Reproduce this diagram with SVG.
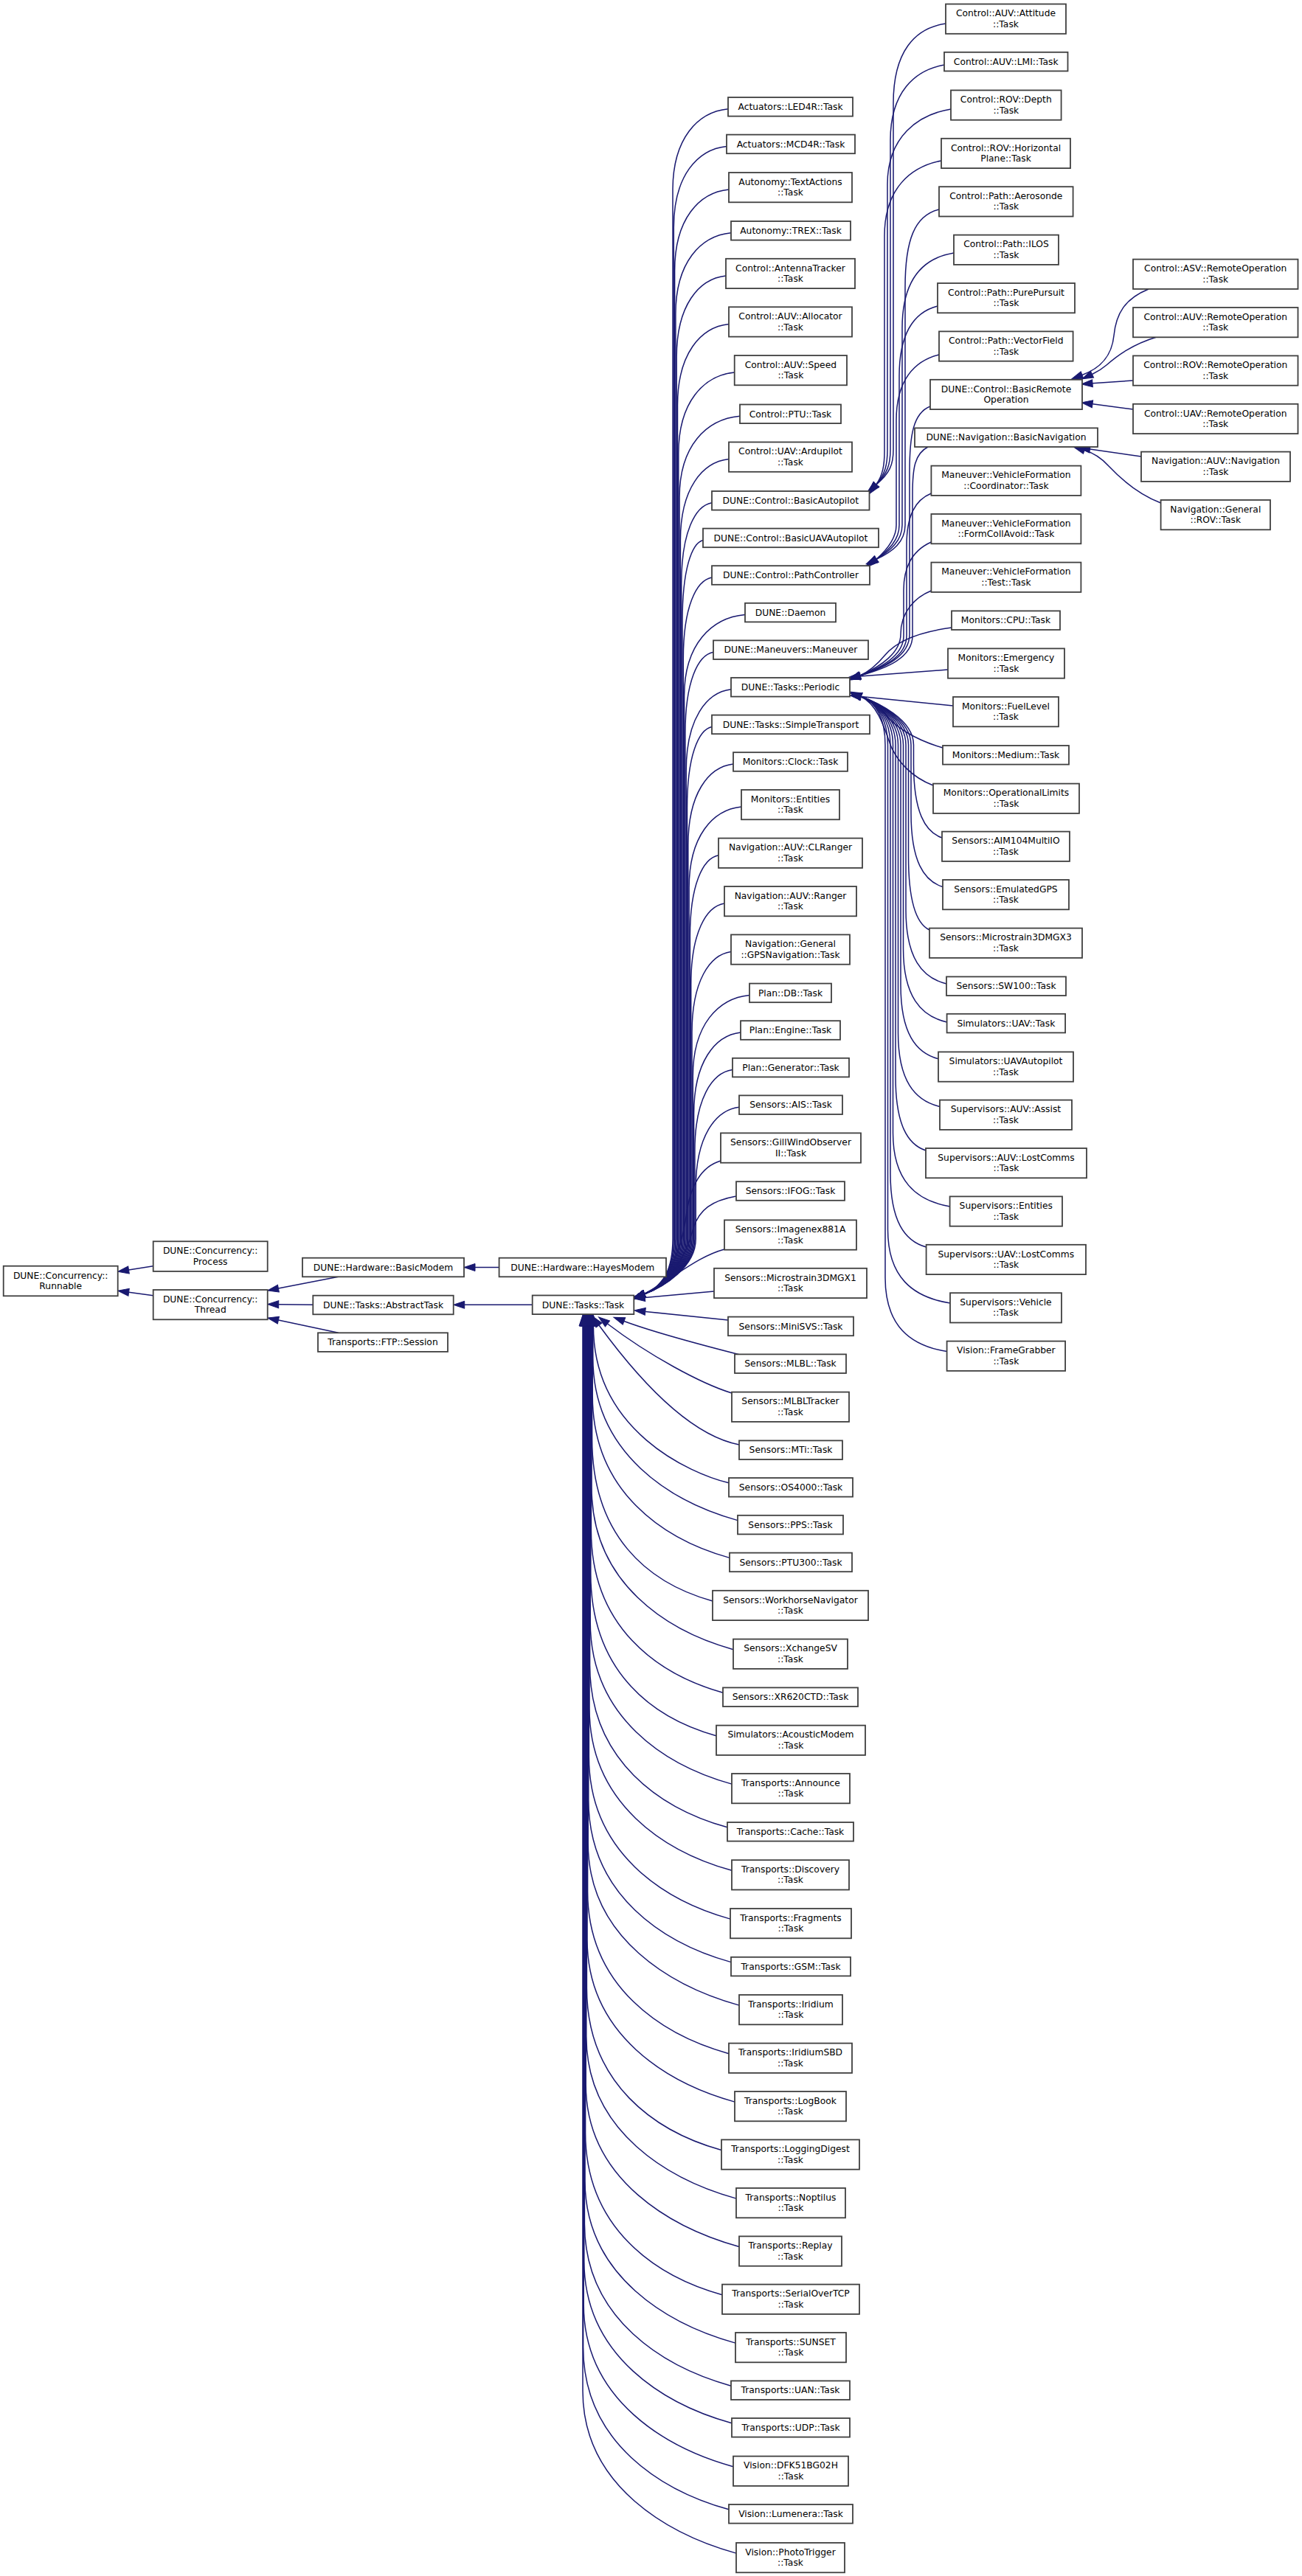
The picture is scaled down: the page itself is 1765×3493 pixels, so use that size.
<svg xmlns="http://www.w3.org/2000/svg" width="1765" height="3493" viewBox="0 0 1765 3493">
<defs>
<marker id="ah" markerUnits="userSpaceOnUse" markerWidth="16" markerHeight="12" refX="0" refY="0" orient="auto" overflow="visible"><path d="M0,-5 L15,0 L0,5 Z" fill="#191970" stroke="#191970" stroke-width="1"/></marker>
<style>
.n rect{fill:#fff;stroke:#404040;stroke-width:1.8}
.n text{font-family:"DejaVu Sans","Liberation Sans",sans-serif;font-size:12.3px;text-anchor:middle;fill:#000}
.e path{fill:none;stroke:#191970;stroke-width:1.5;marker-end:url(#ah)}
</style>
</defs>
<rect width="1765" height="3493" fill="#fff"/>
<g id="connectors" class="e">
<path d="M207.7,1716.7 L174.5,1722"/>
<path d="M207.7,1756.7 L174.6,1752.3"/>
<path d="M458.7,1731.3 L377.4,1747.1"/>
<path d="M424.3,1769.3 L377.7,1768.8"/>
<path d="M458.7,1807.3 L377.4,1790.1"/>
<path d="M676.6,1718.5 L644,1718.5"/>
<path d="M721.7,1769.3 L629.7,1769.3"/>
<path d="M987,147.8 C945.75,151.8 912,187.8 912,257.8 L912,1680 C912,1718 900,1745 873.5,1754.5"/>
<path d="M985,198.4 C945.6,202.4 913.3,238.4 913.3,308.4 L913.3,1680 C913.3,1718 900,1745 873.5,1754.5"/>
<path d="M988,257 C947.6,261 914.6,297 914.6,367 L914.6,1680 C914.6,1718 900,1745 873.5,1754.5"/>
<path d="M991,315.8 C949.7,319.8 915.9,355.8 915.9,425.8 L915.9,1680 C915.9,1718 900,1745 873.5,1754.5"/>
<path d="M984,374 C947.3,378 917.2,414 917.2,484 L917.2,1680 C917.2,1718 900,1745 873.5,1754.5"/>
<path d="M988,439.5 C949.8,443.5 918.5,479.5 918.5,549.5 L918.5,1680 C918.5,1718 900,1745 873.5,1754.5"/>
<path d="M995.7,505 C954,509 919.8,545 919.8,615 L919.8,1680 C919.8,1718 900,1745 873.5,1754.5"/>
<path d="M1003,564.3 C957.9,568.3 921.1,604.3 921.1,674.3 L921.1,1680 C921.1,1718 900,1745 873.5,1754.5"/>
<path d="M988,622.6 C951.9,626.6 922.4,662.6 922.4,732.6 L922.4,1680 C922.4,1718 900,1745 873.5,1754.5"/>
<path d="M965,681.8 C942.3,685.8 923.7,721.8 923.7,791.8 L923.7,1680 C923.7,1718 900,1745 873.5,1754.5"/>
<path d="M953,732.4 C937.6,736.4 925,772.4 925,842.4 L925,1680 C925,1718 900,1745 873.5,1754.5"/>
<path d="M965,783 C943.7,787 926.3,823 926.3,893 L926.3,1680 C926.3,1718 900,1745 873.5,1754.5"/>
<path d="M1010,833.6 C964.7,837.6 927.6,873.6 927.6,943.6 L927.6,1680 C927.6,1718 900,1745 873.5,1754.5"/>
<path d="M967,884.2 C946,888.2 928.9,924.2 928.9,994.2 L928.9,1680 C928.9,1718 900,1745 873.5,1754.5"/>
<path d="M991,934.8 C957.6,938.8 930.2,974.8 930.2,1044.8 L930.2,1680 C930.2,1718 900,1745 873.5,1754.5"/>
<path d="M965,985.4 C946.6,989.4 931.5,1025.4 931.5,1095.4 L931.5,1680 C931.5,1718 900,1745 873.5,1754.5"/>
<path d="M994,1036 C960.3,1040 932.8,1076 932.8,1146 L932.8,1680 C932.8,1718 900,1745 873.5,1754.5"/>
<path d="M1005,1094 C966,1098 934.1,1134 934.1,1204 L934.1,1680 C934.1,1718 900,1745 873.5,1754.5"/>
<path d="M974,1159.7 C952.8,1163.7 935.4,1199.7 935.4,1269.7 L935.4,1680 C935.4,1718 900,1745 873.5,1754.5"/>
<path d="M982,1225 C957.1,1229 936.7,1265 936.7,1335 L936.7,1680 C936.7,1718 900,1745 873.5,1754.5"/>
<path d="M991,1290.5 C961.9,1294.5 938,1330.5 938,1400.5 L938,1680 C938,1718 900,1745 873.5,1754.5"/>
<path d="M1016,1349.4 C973.8,1353.4 939.3,1389.4 939.3,1459.4 L939.3,1680 C939.3,1718 900,1745 873.5,1754.5"/>
<path d="M1004,1400 C969.1,1404 940.6,1440 940.6,1510 L940.6,1680 C940.6,1718 900,1745 873.5,1754.5"/>
<path d="M993,1450.6 C964.9,1454.6 941.9,1490.6 941.9,1560.6 L941.9,1680 C941.9,1718 900,1745 873.5,1754.5"/>
<path d="M1002,1501.2 C969.7,1505.2 943.2,1541.2 943.2,1611.2 L943.2,1680 C943.2,1718 900,1745 873.5,1754.5"/>
<path d="M977,1574 C950,1582 935,1610 930,1650 C922,1705 900,1745 873.5,1754.5"/>
<path d="M998,1622 C965,1628 948,1640 940,1665 C930,1705 905,1745 873.5,1754.5"/>
<path d="M982,1694 C945,1704 915,1732 873.5,1754.5"/>
<path d="M968,1751 L874.3,1759.5"/>
<path d="M987,1790 L874.8,1778.4"/>
<path d="M1003,1837 C960,1826 890,1808 846,1791.5"/>
<path d="M992,1889 C950,1876 880,1838 823.5,1795"/>
<path d="M1002,1959 C945,1948 880,1890 812,1797"/>
<path d="M988,2010.8 C935,1998 804.4,1940 804.4,1798"/>
<path d="M1000,2061.6 C910,2036.6 803.8,1971.6 803.8,1841.6 L803.8,1798"/>
<path d="M989,2112.4 C899,2087.4 803.2,2022.4 803.2,1892.4 L803.2,1798"/>
<path d="M966,2171 C876,2146 802.6,2081 802.6,1951 L802.6,1798"/>
<path d="M994,2236.7 C904,2211.7 802,2146.7 802,2016.7 L802,1798"/>
<path d="M980,2295.2 C890,2270.2 801.4,2205.2 801.4,2075.2 L801.4,1798"/>
<path d="M971,2353.7 C881,2328.7 800.8,2263.7 800.8,2133.7 L800.8,1798"/>
<path d="M992,2419.1 C902,2394.1 800.2,2329.1 800.2,2199.1 L800.2,1798"/>
<path d="M986,2477.8 C896,2452.8 799.6,2387.8 799.6,2257.8 L799.6,1798"/>
<path d="M992,2536.3 C902,2511.3 799,2446.3 799,2316.3 L799,1798"/>
<path d="M990,2602.1 C900,2577.1 798.4,2512.1 798.4,2382.1 L798.4,1798"/>
<path d="M991,2660.6 C901,2635.6 797.8,2570.6 797.8,2440.6 L797.8,1798"/>
<path d="M1002,2719.1 C912,2694.1 797.2,2629.1 797.2,2499.1 L797.2,1798"/>
<path d="M988,2784.7 C898,2759.7 796.6,2694.7 796.6,2564.7 L796.6,1798"/>
<path d="M996,2850.1 C906,2825.1 796,2760.1 796,2630.1 L796,1798"/>
<path d="M978,2915.5 C888,2890.5 795.4,2825.5 795.4,2695.5 L795.4,1798"/>
<path d="M998,2981.1 C908,2956.1 794.8,2891.1 794.8,2761.1 L794.8,1798"/>
<path d="M1002,3046.5 C912,3021.5 794.2,2956.5 794.2,2826.5 L794.2,1798"/>
<path d="M979,3111.7 C889,3086.7 793.6,3021.7 793.6,2891.7 L793.6,1798"/>
<path d="M997,3177.1 C907,3152.1 793,3087.1 793,2957.1 L793,1798"/>
<path d="M991,3235.2 C901,3210.2 792.4,3145.2 792.4,3015.2 L792.4,1798"/>
<path d="M992,3285.8 C902,3260.8 791.8,3195.8 791.8,3065.8 L791.8,1798"/>
<path d="M994,3344.7 C904,3319.7 791.2,3254.7 791.2,3124.7 L791.2,1798"/>
<path d="M988,3402.8 C898,3377.8 790.6,3312.8 790.6,3182.8 L790.6,1798"/>
<path d="M998,3462.1 C908,3437.1 790,3372.1 790,3242.1 L790,1798"/>
<path d="M1282,32 C1240,38 1211,70 1211,140 L1211,610 C1211,630 1206,642 1187.7,657.1"/>
<path d="M1280,88 C1240,95 1207,125 1207,190 L1207,610 C1207,630 1203,642 1187.7,657.1"/>
<path d="M1289,148 C1245,155 1203,185 1203,250 L1203,610 C1203,630 1200,643 1187.7,657.1"/>
<path d="M1276,218 C1235,226 1199,255 1199,320 L1199,612 C1199,630 1197,644 1187.7,657.1"/>
<path d="M1273,284 C1240,292 1227,325 1227,390 L1227,712 C1227,735 1210,748 1187.9,758.3"/>
<path d="M1293,343 C1250,350 1223,380 1223,445 L1223,712 C1223,733 1207,747 1187.9,758.3"/>
<path d="M1271,415 C1240,423 1219,450 1219,510 L1219,712 C1219,732 1205,746 1187.9,758.3"/>
<path d="M1273,481 C1240,489 1215,515 1215,570 L1215,712 C1215,730 1203,745 1187.9,758.3"/>
<path d="M1261,551 C1238,560 1233,590 1233,640 L1233,860 C1233,890 1200,905 1165.6,916.1"/>
<path d="M1258,606 C1240,615 1237,635 1237,670 L1237,862 C1237,892 1202,906 1165.6,916.1"/>
<path d="M1262.4,669 C1240,678 1229,700 1229,740 L1229,862 C1229,890 1198,905 1165.6,916.1"/>
<path d="M1262.4,735 C1240,745 1225,765 1225,800 L1225,862 C1225,888 1196,905 1165.6,916.1"/>
<path d="M1262.4,801 C1240,810 1221,830 1221,860 C1221,885 1194,904 1165.6,916.1"/>
<path d="M1290,851 C1245,857 1215,870 1200,888 C1190,900 1180,910 1165.6,916.1"/>
<path d="M1285,908 L1166,917"/>
<path d="M1292,957 L1167,944.5"/>
<path d="M1278,1014 C1240,1003 1212,985 1198,966 C1190,955 1180,949 1167,944.5"/>
<path d="M1265,1065 C1236,1054 1216,1032 1207,1010 C1200,990 1190,955 1167,944.5"/>
<path d="M1277,1136 C1253.9,1128 1238.5,1101 1238.5,1036 L1238.5,1010 C1238.5,975 1188,952 1167,944.5"/>
<path d="M1278,1202.5 C1252.2,1194.5 1235,1167.5 1235,1102.5 L1235,1010 C1235,975 1188,952 1167,944.5"/>
<path d="M1260,1261 C1242.9,1253 1231.5,1226 1231.5,1161 L1231.5,1010 C1231.5,975 1188,952 1167,944.5"/>
<path d="M1283,1334 C1250,1326 1228,1299 1228,1234 L1228,1010 C1228,975 1188,952 1167,944.5"/>
<path d="M1283.7,1386 C1248.2,1378 1224.5,1351 1224.5,1286 L1224.5,1010 C1224.5,975 1188,952 1167,944.5"/>
<path d="M1272,1435.7 C1241.4,1427.7 1221,1400.7 1221,1335.7 L1221,1010 C1221,975 1188,952 1167,944.5"/>
<path d="M1274,1500.5 C1240.1,1492.5 1217.5,1465.5 1217.5,1400.5 L1217.5,1010 C1217.5,975 1188,952 1167,944.5"/>
<path d="M1255,1560 C1230.4,1552 1214,1525 1214,1460 L1214,1010 C1214,975 1188,952 1167,944.5"/>
<path d="M1287.7,1636 C1241.4,1628 1210.5,1601 1210.5,1536 L1210.5,1010 C1210.5,975 1188,952 1167,944.5"/>
<path d="M1255.6,1691 C1226.4,1683 1207,1656 1207,1591 L1207,1010 C1207,975 1188,952 1167,944.5"/>
<path d="M1288,1767 C1237.3,1759 1203.5,1732 1203.5,1667 L1203.5,1010 C1203.5,975 1188,952 1167,944.5"/>
<path d="M1283.7,1832.6 C1233.5,1824.6 1200,1797.6 1200,1732.6 L1200,1010 C1200,975 1188,952 1167,944.5"/>
<path d="M1557,392 C1525,405 1513,425 1510,455 C1507,485 1490,500 1467,508.5"/>
<path d="M1568,457 C1535,467 1515,482 1500,495 C1493,501 1488,504 1480.5,507.5"/>
<path d="M1536,516 L1481,519.8"/>
<path d="M1536,555 L1481,547.8"/>
<path d="M1547,619 L1477.5,609"/>
<path d="M1573.6,682 C1545,671 1520,650 1503,632 C1495,623 1485,615 1470,610.5"/>
</g>
<g id="n-runnable" class="n"><rect x="4.7" y="1716.7" width="155" height="40.6"/><text x="82.2" y="1733.5">DUNE::Concurrency::</text><text x="82.2" y="1747.9">Runnable</text></g>
<g id="n-process" class="n"><rect x="207.7" y="1683.3" width="155" height="40.6"/><text x="285.2" y="1700.1">DUNE::Concurrency::</text><text x="285.2" y="1714.5">Process</text></g>
<g id="n-thread" class="n"><rect x="207.7" y="1749" width="155" height="40.3"/><text x="285.2" y="1765.8">DUNE::Concurrency::</text><text x="285.2" y="1780.2">Thread</text></g>
<g id="n-basicmodem" class="n"><rect x="410" y="1705.7" width="219" height="25.6"/><text x="519.5" y="1722.7">DUNE::Hardware::BasicModem</text></g>
<g id="n-abstracttask" class="n"><rect x="424.3" y="1756.7" width="190.4" height="25.6"/><text x="519.5" y="1773.7">DUNE::Tasks::AbstractTask</text></g>
<g id="n-ftpsession" class="n"><rect x="431" y="1807.3" width="176" height="25.6"/><text x="519" y="1824.3">Transports::FTP::Session</text></g>
<g id="n-hayesmodem" class="n"><rect x="676.6" y="1705.7" width="226.4" height="25.6"/><text x="789.8" y="1722.7">DUNE::Hardware::HayesModem</text></g>
<g id="n-task" class="n"><rect x="721.7" y="1756.5" width="137.6" height="25.6"/><text x="790.5" y="1773.5">DUNE::Tasks::Task</text></g>
<g id="n-led4r" class="n"><rect x="987" y="132" width="169" height="25.6"/><text x="1071.5" y="149">Actuators::LED4R::Task</text></g>
<g id="n-mcd4r" class="n"><rect x="985" y="182.6" width="174" height="25.6"/><text x="1072" y="199.6">Actuators::MCD4R::Task</text></g>
<g id="n-textactions" class="n"><rect x="988" y="234" width="167" height="40.3"/><text x="1071.5" y="250.8">Autonomy::TextActions</text><text x="1071.5" y="265.2">::Task</text></g>
<g id="n-trex" class="n"><rect x="991" y="300" width="162" height="25.6"/><text x="1072" y="317">Autonomy::TREX::Task</text></g>
<g id="n-antennatracker" class="n"><rect x="984" y="350.8" width="175" height="40.3"/><text x="1071.5" y="367.6">Control::AntennaTracker</text><text x="1071.5" y="382">::Task</text></g>
<g id="n-allocator" class="n"><rect x="988" y="416.3" width="167" height="40.3"/><text x="1071.5" y="433.1">Control::AUV::Allocator</text><text x="1071.5" y="447.5">::Task</text></g>
<g id="n-speed" class="n"><rect x="995.7" y="482" width="152.3" height="40.3"/><text x="1071.85" y="498.8">Control::AUV::Speed</text><text x="1071.85" y="513.2">::Task</text></g>
<g id="n-ptu" class="n"><rect x="1003" y="548.5" width="137" height="25.6"/><text x="1071.5" y="565.5">Control::PTU::Task</text></g>
<g id="n-ardupilot" class="n"><rect x="988" y="599.5" width="167" height="40.3"/><text x="1071.5" y="616.3">Control::UAV::Ardupilot</text><text x="1071.5" y="630.7">::Task</text></g>
<g id="n-basicautopilot" class="n"><rect x="965" y="666" width="213.5" height="25.6"/><text x="1071.75" y="683">DUNE::Control::BasicAutopilot</text></g>
<g id="n-basicuavautopilot" class="n"><rect x="953" y="716.6" width="238" height="25.6"/><text x="1072" y="733.6">DUNE::Control::BasicUAVAutopilot</text></g>
<g id="n-pathcontroller" class="n"><rect x="965" y="767.2" width="214" height="25.6"/><text x="1072" y="784.2">DUNE::Control::PathController</text></g>
<g id="n-daemon" class="n"><rect x="1010" y="817.8" width="123" height="25.6"/><text x="1071.5" y="834.8">DUNE::Daemon</text></g>
<g id="n-maneuver" class="n"><rect x="967" y="868.4" width="210" height="25.6"/><text x="1072" y="885.4">DUNE::Maneuvers::Maneuver</text></g>
<g id="n-periodic" class="n"><rect x="991" y="919" width="161" height="25.6"/><text x="1071.5" y="936">DUNE::Tasks::Periodic</text></g>
<g id="n-simpletransport" class="n"><rect x="965" y="969.6" width="214" height="25.6"/><text x="1072" y="986.6">DUNE::Tasks::SimpleTransport</text></g>
<g id="n-clock" class="n"><rect x="994" y="1020.2" width="155" height="25.6"/><text x="1071.5" y="1037.2">Monitors::Clock::Task</text></g>
<g id="n-mon-entities" class="n"><rect x="1005" y="1071" width="133" height="40.3"/><text x="1071.5" y="1087.8">Monitors::Entities</text><text x="1071.5" y="1102.2">::Task</text></g>
<g id="n-clranger" class="n"><rect x="974" y="1136.6" width="195" height="40.3"/><text x="1071.5" y="1153.4">Navigation::AUV::CLRanger</text><text x="1071.5" y="1167.8">::Task</text></g>
<g id="n-ranger" class="n"><rect x="982" y="1202" width="179" height="40.3"/><text x="1071.5" y="1218.8">Navigation::AUV::Ranger</text><text x="1071.5" y="1233.2">::Task</text></g>
<g id="n-gpsnav" class="n"><rect x="991" y="1267.4" width="161" height="40.3"/><text x="1071.5" y="1284.2">Navigation::General</text><text x="1071.5" y="1298.6">::GPSNavigation::Task</text></g>
<g id="n-plandb" class="n"><rect x="1016" y="1333.6" width="111" height="25.6"/><text x="1071.5" y="1350.6">Plan::DB::Task</text></g>
<g id="n-planengine" class="n"><rect x="1004" y="1384.2" width="135" height="25.6"/><text x="1071.5" y="1401.2">Plan::Engine::Task</text></g>
<g id="n-plangenerator" class="n"><rect x="993" y="1434.8" width="158" height="25.6"/><text x="1072" y="1451.8">Plan::Generator::Task</text></g>
<g id="n-ais" class="n"><rect x="1002" y="1485.4" width="140" height="25.6"/><text x="1072" y="1502.4">Sensors::AIS::Task</text></g>
<g id="n-gillwind" class="n"><rect x="977" y="1536.4" width="190" height="40.3"/><text x="1072" y="1553.2">Sensors::GillWindObserver</text><text x="1072" y="1567.6">II::Task</text></g>
<g id="n-ifog" class="n"><rect x="998" y="1602.2" width="147" height="25.6"/><text x="1071.5" y="1619.2">Sensors::IFOG::Task</text></g>
<g id="n-imagenex" class="n"><rect x="982" y="1654.4" width="179" height="40.3"/><text x="1071.5" y="1671.2">Sensors::Imagenex881A</text><text x="1071.5" y="1685.6">::Task</text></g>
<g id="n-mgx1" class="n"><rect x="968" y="1719.8" width="207" height="40.3"/><text x="1071.5" y="1736.6">Sensors::Microstrain3DMGX1</text><text x="1071.5" y="1751">::Task</text></g>
<g id="n-minisvs" class="n"><rect x="987" y="1785.6" width="170" height="25.6"/><text x="1072" y="1802.6">Sensors::MiniSVS::Task</text></g>
<g id="n-mlbl" class="n"><rect x="996" y="1836.4" width="151" height="25.6"/><text x="1071.5" y="1853.4">Sensors::MLBL::Task</text></g>
<g id="n-mlbltracker" class="n"><rect x="992" y="1887.6" width="159" height="40.3"/><text x="1071.5" y="1904.4">Sensors::MLBLTracker</text><text x="1071.5" y="1918.8">::Task</text></g>
<g id="n-mti" class="n"><rect x="1002" y="1953.4" width="140" height="25.6"/><text x="1072" y="1970.4">Sensors::MTi::Task</text></g>
<g id="n-os4000" class="n"><rect x="988" y="2004" width="168" height="25.6"/><text x="1072" y="2021">Sensors::OS4000::Task</text></g>
<g id="n-pps" class="n"><rect x="1000" y="2054.8" width="143" height="25.6"/><text x="1071.5" y="2071.8">Sensors::PPS::Task</text></g>
<g id="n-ptu300" class="n"><rect x="989" y="2105.6" width="166" height="25.6"/><text x="1072" y="2122.6">Sensors::PTU300::Task</text></g>
<g id="n-workhorse" class="n"><rect x="966" y="2156.8" width="211" height="40.3"/><text x="1071.5" y="2173.6">Sensors::WorkhorseNavigator</text><text x="1071.5" y="2188">::Task</text></g>
<g id="n-xchangesv" class="n"><rect x="994" y="2222.6" width="155" height="40.3"/><text x="1071.5" y="2239.4">Sensors::XchangeSV</text><text x="1071.5" y="2253.8">::Task</text></g>
<g id="n-xr620ctd" class="n"><rect x="980" y="2288.4" width="183" height="25.6"/><text x="1071.5" y="2305.4">Sensors::XR620CTD::Task</text></g>
<g id="n-acousticmodem" class="n"><rect x="971" y="2339.6" width="202" height="40.3"/><text x="1072" y="2356.4">Simulators::AcousticModem</text><text x="1072" y="2370.8">::Task</text></g>
<g id="n-announce" class="n"><rect x="992" y="2405" width="160" height="40.3"/><text x="1072" y="2421.8">Transports::Announce</text><text x="1072" y="2436.2">::Task</text></g>
<g id="n-cache" class="n"><rect x="986" y="2471" width="171" height="25.6"/><text x="1071.5" y="2488">Transports::Cache::Task</text></g>
<g id="n-discovery" class="n"><rect x="992" y="2522.2" width="159" height="40.3"/><text x="1071.5" y="2539">Transports::Discovery</text><text x="1071.5" y="2553.4">::Task</text></g>
<g id="n-fragments" class="n"><rect x="990" y="2588" width="164" height="40.3"/><text x="1072" y="2604.8">Transports::Fragments</text><text x="1072" y="2619.2">::Task</text></g>
<g id="n-gsm" class="n"><rect x="991" y="2653.8" width="162" height="25.6"/><text x="1072" y="2670.8">Transports::GSM::Task</text></g>
<g id="n-iridium" class="n"><rect x="1002" y="2705" width="140" height="40.3"/><text x="1072" y="2721.8">Transports::Iridium</text><text x="1072" y="2736.2">::Task</text></g>
<g id="n-iridiumsbd" class="n"><rect x="988" y="2770.6" width="167" height="40.3"/><text x="1071.5" y="2787.4">Transports::IridiumSBD</text><text x="1071.5" y="2801.8">::Task</text></g>
<g id="n-logbook" class="n"><rect x="996" y="2836" width="151" height="40.3"/><text x="1071.5" y="2852.8">Transports::LogBook</text><text x="1071.5" y="2867.2">::Task</text></g>
<g id="n-loggingdigest" class="n"><rect x="978" y="2901.4" width="187" height="40.3"/><text x="1071.5" y="2918.2">Transports::LoggingDigest</text><text x="1071.5" y="2932.6">::Task</text></g>
<g id="n-noptilus" class="n"><rect x="998" y="2967" width="148" height="40.3"/><text x="1072" y="2983.8">Transports::Noptilus</text><text x="1072" y="2998.2">::Task</text></g>
<g id="n-replay" class="n"><rect x="1002" y="3032.4" width="139" height="40.3"/><text x="1071.5" y="3049.2">Transports::Replay</text><text x="1071.5" y="3063.6">::Task</text></g>
<g id="n-serialovertcp" class="n"><rect x="979" y="3097.6" width="186" height="40.3"/><text x="1072" y="3114.4">Transports::SerialOverTCP</text><text x="1072" y="3128.8">::Task</text></g>
<g id="n-sunset" class="n"><rect x="997" y="3163" width="150" height="40.3"/><text x="1072" y="3179.8">Transports::SUNSET</text><text x="1072" y="3194.2">::Task</text></g>
<g id="n-uan" class="n"><rect x="991" y="3228.4" width="161" height="25.6"/><text x="1071.5" y="3245.4">Transports::UAN::Task</text></g>
<g id="n-udp" class="n"><rect x="992" y="3279" width="160" height="25.6"/><text x="1072" y="3296">Transports::UDP::Task</text></g>
<g id="n-dfk" class="n"><rect x="994" y="3330.6" width="156" height="40.3"/><text x="1072" y="3347.4">Vision::DFK51BG02H</text><text x="1072" y="3361.8">::Task</text></g>
<g id="n-lumenera" class="n"><rect x="988" y="3396" width="168" height="25.6"/><text x="1072" y="3413">Vision::Lumenera::Task</text></g>
<g id="n-phototrigger" class="n"><rect x="998" y="3448" width="147" height="40.3"/><text x="1071.5" y="3464.8">Vision::PhotoTrigger</text><text x="1071.5" y="3479.2">::Task</text></g>
<g id="n-attitude" class="n"><rect x="1282" y="5.5" width="163" height="40.3"/><text x="1363.5" y="22.3">Control::AUV::Attitude</text><text x="1363.5" y="36.7">::Task</text></g>
<g id="n-lmi" class="n"><rect x="1280" y="70.8" width="167.5" height="25.6"/><text x="1363.75" y="87.8">Control::AUV::LMI::Task</text></g>
<g id="n-depth" class="n"><rect x="1289" y="122.4" width="149.6" height="40.3"/><text x="1363.8" y="139.2">Control::ROV::Depth</text><text x="1363.8" y="153.6">::Task</text></g>
<g id="n-horizontalplane" class="n"><rect x="1276" y="187.8" width="175" height="40.3"/><text x="1363.5" y="204.6">Control::ROV::Horizontal</text><text x="1363.5" y="219">Plane::Task</text></g>
<g id="n-aerosonde" class="n"><rect x="1273" y="253.2" width="181.6" height="40.3"/><text x="1363.8" y="270">Control::Path::Aerosonde</text><text x="1363.8" y="284.4">::Task</text></g>
<g id="n-ilos" class="n"><rect x="1293" y="318.6" width="142" height="40.3"/><text x="1364" y="335.4">Control::Path::ILOS</text><text x="1364" y="349.8">::Task</text></g>
<g id="n-purepursuit" class="n"><rect x="1271" y="384" width="186" height="40.3"/><text x="1364" y="400.8">Control::Path::PurePursuit</text><text x="1364" y="415.2">::Task</text></g>
<g id="n-vectorfield" class="n"><rect x="1273" y="449.4" width="181.6" height="40.3"/><text x="1363.8" y="466.2">Control::Path::VectorField</text><text x="1363.8" y="480.6">::Task</text></g>
<g id="n-basicremoteop" class="n"><rect x="1261" y="514.8" width="206" height="40.3"/><text x="1364" y="531.6">DUNE::Control::BasicRemote</text><text x="1364" y="546">Operation</text></g>
<g id="n-basicnavigation" class="n"><rect x="1240" y="580.4" width="248" height="25.6"/><text x="1364" y="597.4">DUNE::Navigation::BasicNavigation</text></g>
<g id="n-coordinator" class="n"><rect x="1262.4" y="631.6" width="203" height="40.3"/><text x="1363.9" y="648.4">Maneuver::VehicleFormation</text><text x="1363.9" y="662.8">::Coordinator::Task</text></g>
<g id="n-formcollavoid" class="n"><rect x="1262.4" y="697" width="203" height="40.3"/><text x="1363.9" y="713.8">Maneuver::VehicleFormation</text><text x="1363.9" y="728.2">::FormCollAvoid::Task</text></g>
<g id="n-vftest" class="n"><rect x="1262.4" y="762.6" width="203" height="40.3"/><text x="1363.9" y="779.4">Maneuver::VehicleFormation</text><text x="1363.9" y="793.8">::Test::Task</text></g>
<g id="n-cpu" class="n"><rect x="1290" y="828.4" width="147" height="25.6"/><text x="1363.5" y="845.4">Monitors::CPU::Task</text></g>
<g id="n-emergency" class="n"><rect x="1285" y="879.4" width="158" height="40.3"/><text x="1364" y="896.2">Monitors::Emergency</text><text x="1364" y="910.6">::Task</text></g>
<g id="n-fuellevel" class="n"><rect x="1292" y="945" width="143" height="40.3"/><text x="1363.5" y="961.8">Monitors::FuelLevel</text><text x="1363.5" y="976.2">::Task</text></g>
<g id="n-medium" class="n"><rect x="1278" y="1011" width="171" height="25.6"/><text x="1363.5" y="1028">Monitors::Medium::Task</text></g>
<g id="n-oplimits" class="n"><rect x="1265" y="1062.6" width="198" height="40.3"/><text x="1364" y="1079.4">Monitors::OperationalLimits</text><text x="1364" y="1093.8">::Task</text></g>
<g id="n-aim104" class="n"><rect x="1277" y="1127.6" width="173" height="40.3"/><text x="1363.5" y="1144.4">Sensors::AIM104MultiIO</text><text x="1363.5" y="1158.8">::Task</text></g>
<g id="n-emulatedgps" class="n"><rect x="1278" y="1193" width="171" height="40.3"/><text x="1363.5" y="1209.8">Sensors::EmulatedGPS</text><text x="1363.5" y="1224.2">::Task</text></g>
<g id="n-mgx3" class="n"><rect x="1260" y="1258.6" width="207" height="40.3"/><text x="1363.5" y="1275.4">Sensors::Microstrain3DMGX3</text><text x="1363.5" y="1289.8">::Task</text></g>
<g id="n-sw100" class="n"><rect x="1283" y="1324.4" width="162" height="25.6"/><text x="1364" y="1341.4">Sensors::SW100::Task</text></g>
<g id="n-simuav" class="n"><rect x="1283.6" y="1374.8" width="160.5" height="25.6"/><text x="1363.85" y="1391.8">Simulators::UAV::Task</text></g>
<g id="n-uavautopilot" class="n"><rect x="1272" y="1426.4" width="183" height="40.3"/><text x="1363.5" y="1443.2">Simulators::UAVAutopilot</text><text x="1363.5" y="1457.6">::Task</text></g>
<g id="n-assist" class="n"><rect x="1274" y="1491.6" width="179" height="40.3"/><text x="1363.5" y="1508.4">Supervisors::AUV::Assist</text><text x="1363.5" y="1522.8">::Task</text></g>
<g id="n-auvlostcomms" class="n"><rect x="1255" y="1557" width="218" height="40.3"/><text x="1364" y="1573.8">Supervisors::AUV::LostComms</text><text x="1364" y="1588.2">::Task</text></g>
<g id="n-sup-entities" class="n"><rect x="1287.6" y="1622.4" width="152.4" height="40.3"/><text x="1363.8" y="1639.2">Supervisors::Entities</text><text x="1363.8" y="1653.6">::Task</text></g>
<g id="n-uavlostcomms" class="n"><rect x="1255.6" y="1687.8" width="216.4" height="40.3"/><text x="1363.8" y="1704.6">Supervisors::UAV::LostComms</text><text x="1363.8" y="1719">::Task</text></g>
<g id="n-vehicle" class="n"><rect x="1288" y="1753.2" width="151" height="40.3"/><text x="1363.5" y="1770">Supervisors::Vehicle</text><text x="1363.5" y="1784.4">::Task</text></g>
<g id="n-framegrabber" class="n"><rect x="1283.6" y="1818.6" width="160.5" height="40.3"/><text x="1363.85" y="1835.4">Vision::FrameGrabber</text><text x="1363.85" y="1849.8">::Task</text></g>
<g id="n-asvremote" class="n"><rect x="1536" y="351.6" width="223.5" height="40.3"/><text x="1647.75" y="368.4">Control::ASV::RemoteOperation</text><text x="1647.75" y="382.8">::Task</text></g>
<g id="n-auvremote" class="n"><rect x="1536" y="417" width="223.5" height="40.3"/><text x="1647.75" y="433.8">Control::AUV::RemoteOperation</text><text x="1647.75" y="448.2">::Task</text></g>
<g id="n-rovremote" class="n"><rect x="1536" y="482.4" width="223.5" height="40.3"/><text x="1647.75" y="499.2">Control::ROV::RemoteOperation</text><text x="1647.75" y="513.6">::Task</text></g>
<g id="n-uavremote" class="n"><rect x="1536" y="547.8" width="223.5" height="40.3"/><text x="1647.75" y="564.6">Control::UAV::RemoteOperation</text><text x="1647.75" y="579">::Task</text></g>
<g id="n-navauv" class="n"><rect x="1547" y="612.6" width="202" height="40.3"/><text x="1648" y="629.4">Navigation::AUV::Navigation</text><text x="1648" y="643.8">::Task</text></g>
<g id="n-navrov" class="n"><rect x="1573.6" y="678" width="148.4" height="40.3"/><text x="1647.8" y="694.8">Navigation::General</text><text x="1647.8" y="709.2">::ROV::Task</text></g>
</svg>
